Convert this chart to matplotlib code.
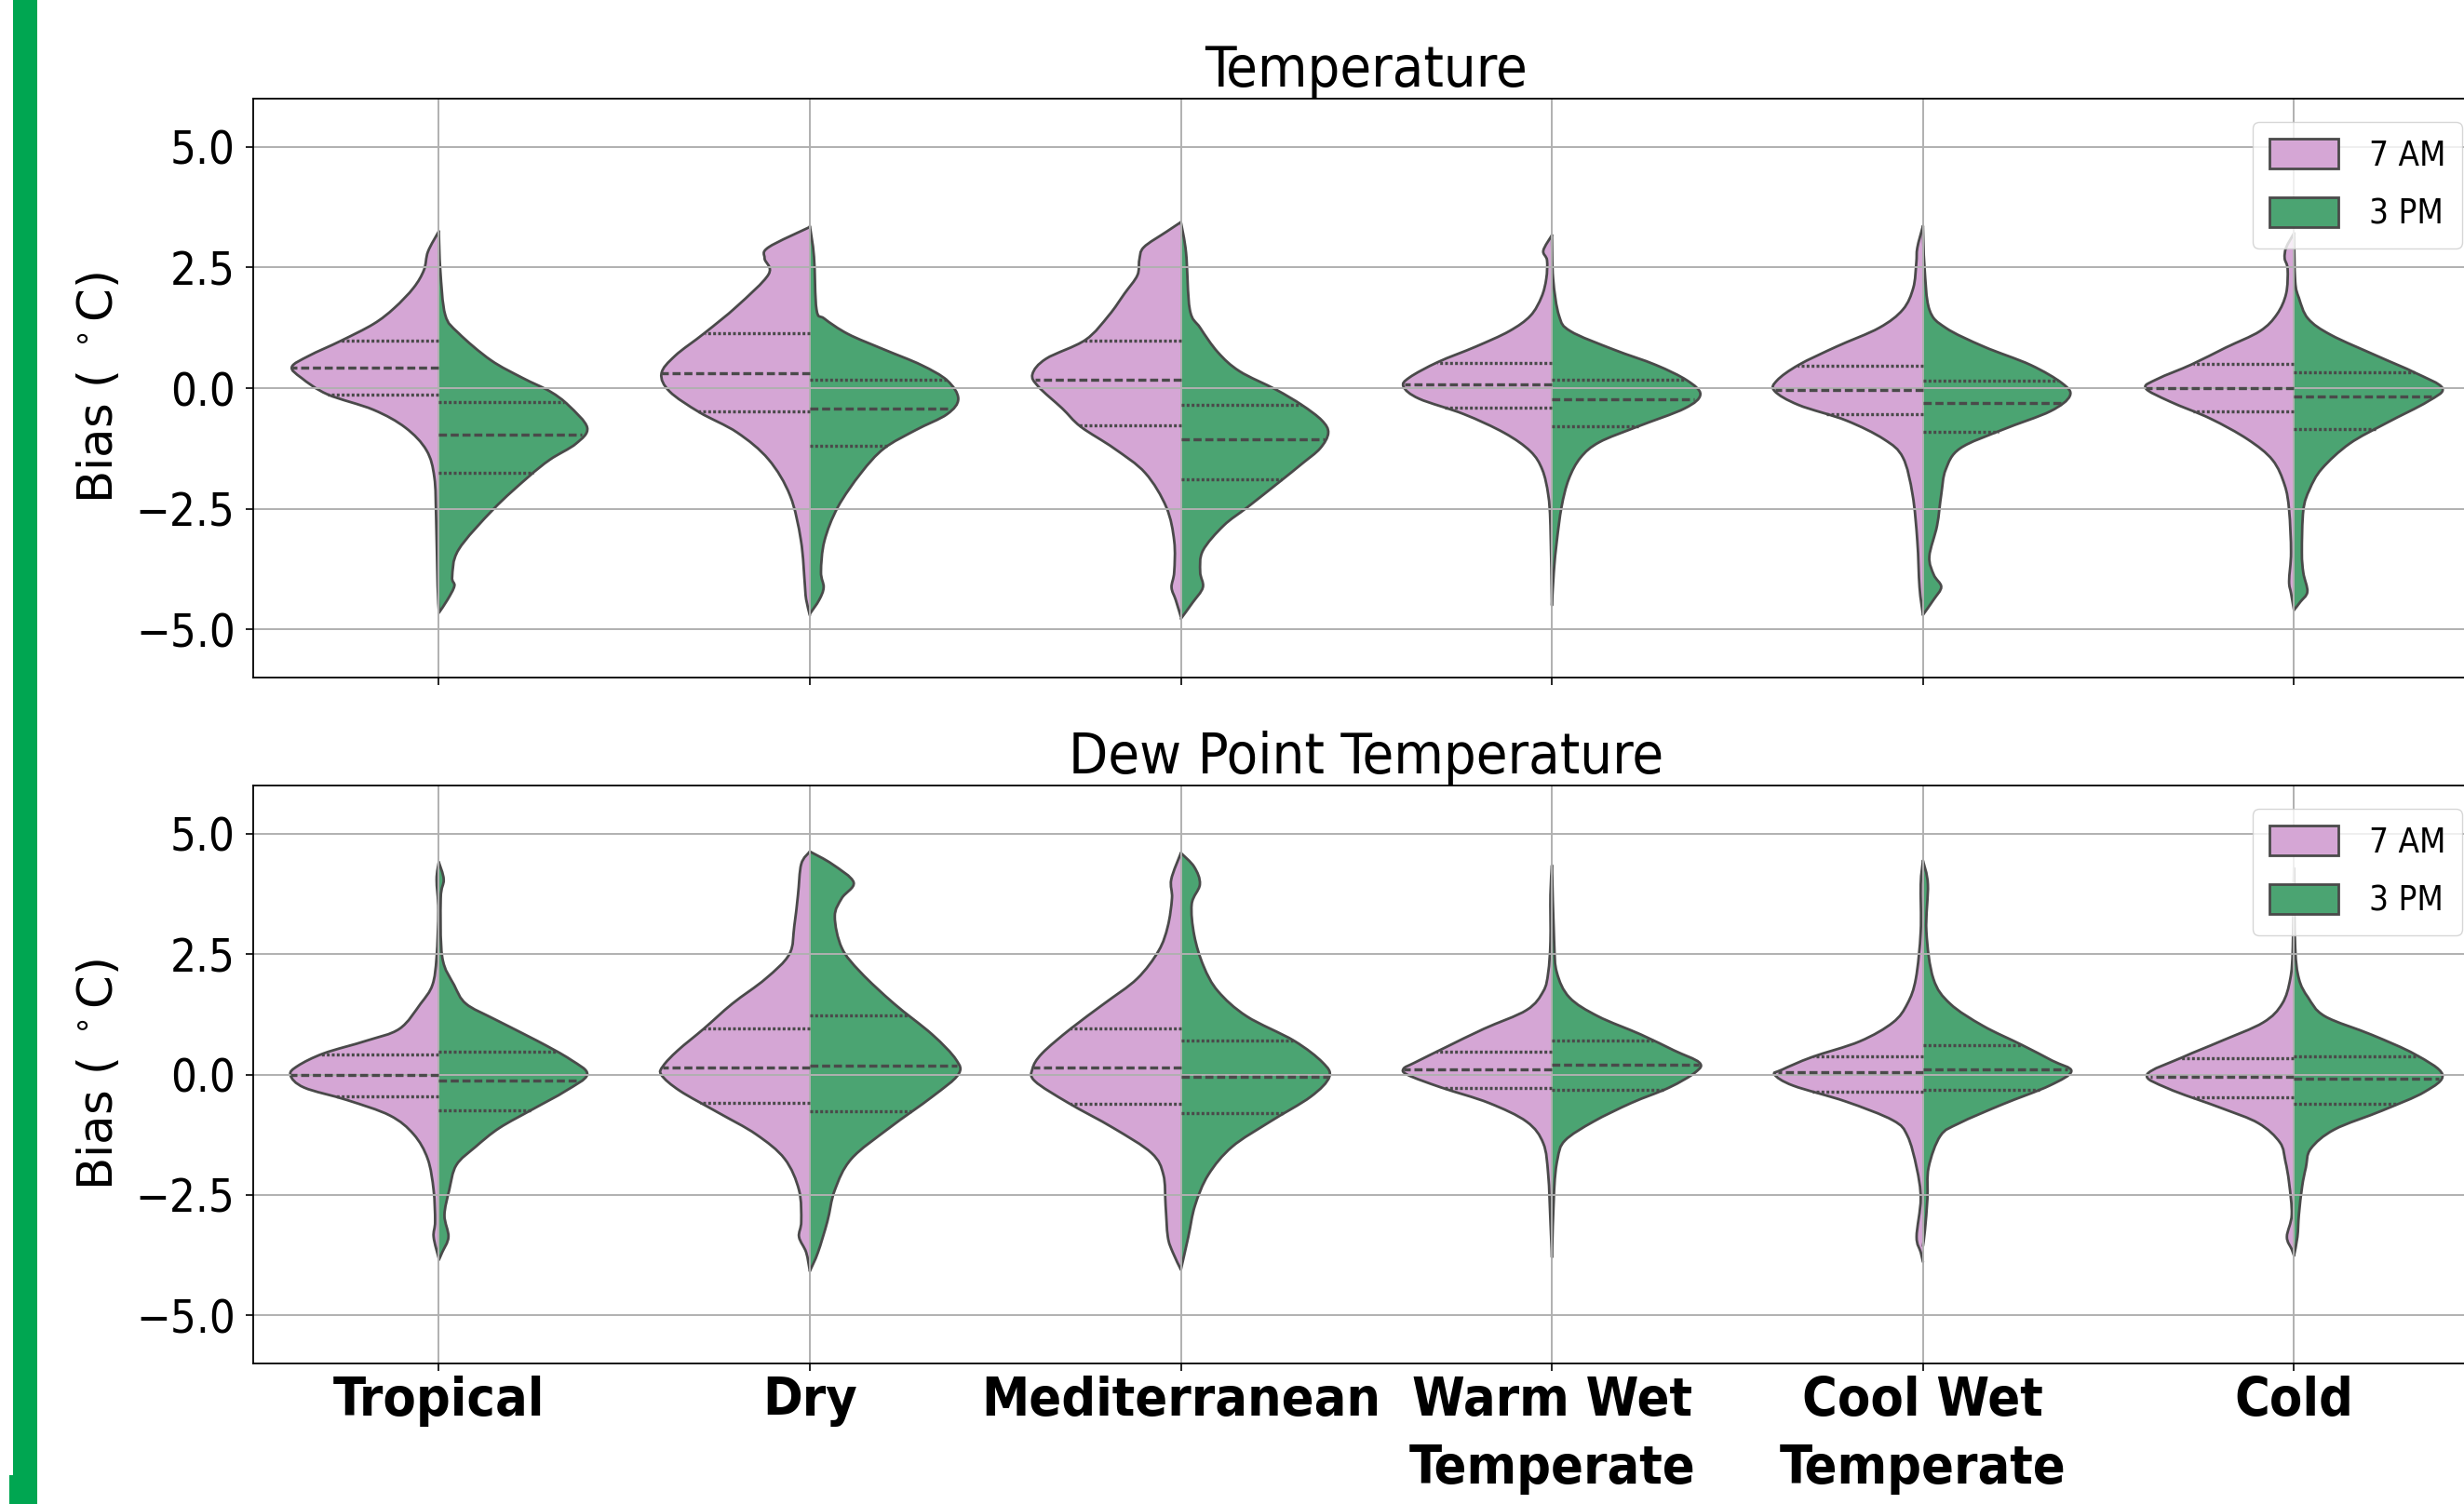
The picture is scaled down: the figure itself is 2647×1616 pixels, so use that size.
import numpy as np
import matplotlib
matplotlib.use("Agg")
import matplotlib.pyplot as plt
from matplotlib import font_manager as fm
from matplotlib.path import Path
from matplotlib.patches import PathPatch, Patch, Rectangle

# ---------------- data ----------------
categories = ["Tropical", "Dry", "Mediterranean", "Warm Wet\nTemperate",
              "Cool Wet\nTemperate", "Cold"]
times = ["7 AM", "3 PM"]
panel_titles = ["Temperature", "Dew Point Temperature"]
yticks = [-5.0, -2.5, 0.0, 2.5, 5.0]

# density profiles: (bias, relative density 0..1), bottom tip -> top tip
temp_am_profiles = [
    [(-4.6, 0), (-4.1, 0.008), (-2.7, 0.018), (-1.85, 0.03), (-1.29, 0.083), (-0.82, 0.225),
     (-0.45, 0.44), (-0.13, 0.75), (0.21, 0.925), (0.44, 0.99), (0.67, 0.875), (0.98, 0.66),
     (1.33, 0.44), (1.66, 0.30), (2.08, 0.17), (2.45, 0.10), (2.83, 0.073), (3.25, 0)],
    [(-4.71, 0), (-4.38, 0.025), (-4.1, 0.033), (-3.16, 0.06), (-2.23, 0.133), (-1.48, 0.278),
     (-0.92, 0.49), (-0.50, 0.745), (-0.07, 0.945), (0.30, 1.0), (0.67, 0.908), (1.14, 0.71),
     (1.70, 0.49), (2.36, 0.278), (2.69, 0.305), (2.92, 0.278), (3.34, 0)],
    [(-4.74, 0), (-4.39, 0.035), (-4.13, 0.063), (-3.81, 0.045), (-3.17, 0.045), (-2.47, 0.098),
     (-1.76, 0.24), (-1.25, 0.45), (-0.80, 0.675), (-0.42, 0.80), (0.03, 0.96), (0.29, 1.0),
     (0.61, 0.908), (1.0, 0.643), (1.51, 0.485), (1.96, 0.38), (2.34, 0.293), (2.66, 0.28),
     (2.92, 0.25), (3.24, 0.098), (3.44, 0)],
    [(-4.5, 0), (-2.85, 0.01), (-2.21, 0.025), (-1.69, 0.065), (-1.31, 0.145), (-0.93, 0.32),
     (-0.54, 0.593), (-0.22, 0.895), (0.03, 1.0), (0.22, 0.96), (0.54, 0.768), (0.86, 0.513),
     (1.18, 0.288), (1.50, 0.145), (1.89, 0.07), (2.27, 0.038), (2.65, 0.033), (2.85, 0.058),
     (3.17, 0)],
    [(-4.7, 0), (-4.13, 0.023), (-3.17, 0.038), (-2.21, 0.07), (-1.44, 0.135), (-1.06, 0.263),
     (-0.67, 0.518), (-0.35, 0.838), (-0.06, 1.0), (0.16, 0.983), (0.48, 0.838), (0.86, 0.583),
     (1.25, 0.295), (1.63, 0.135), (2.08, 0.065), (2.59, 0.045), (2.91, 0.038), (3.36, 0)],
    [(-4.6, 0), (-4.25, 0.02), (-4.0, 0.033), (-3.4, 0.02), (-2.53, 0.033), (-2.01, 0.063),
     (-1.49, 0.145), (-1.06, 0.313), (-0.63, 0.565), (-0.28, 0.835), (0.0, 1.0), (0.19, 0.92),
     (0.49, 0.69), (0.84, 0.46), (1.18, 0.23), (1.53, 0.115), (1.96, 0.053), (2.47, 0.043),
     (2.69, 0.063), (2.91, 0.053), (3.21, 0)],
]
temp_pm_profiles = [
    [(-4.66, 0), (-4.38, 0.06), (-4.1, 0.105), (-3.91, 0.09), (-3.35, 0.133), (-2.51, 0.368),
     (-1.85, 0.60), (-1.48, 0.75), (-1.15, 0.925), (-0.82, 1.0), (-0.36, 0.875), (-0.07, 0.75),
     (0.21, 0.565), (0.58, 0.35), (1.14, 0.133), (1.52, 0.043), (2.45, 0.01), (3.25, 0)],
    [(-4.68, 0), (-4.39, 0.063), (-4.13, 0.093), (-3.81, 0.075), (-3.17, 0.098), (-2.47, 0.188),
     (-1.76, 0.345), (-1.25, 0.50), (-0.87, 0.713), (-0.54, 0.925), (-0.22, 1.0), (0.16, 0.925),
     (0.48, 0.75), (0.80, 0.50), (1.12, 0.258), (1.44, 0.098), (1.63, 0.045), (2.72, 0.028),
     (3.36, 0)],
    [(-4.78, 0), (-4.45, 0.078), (-4.13, 0.148), (-3.81, 0.13), (-3.37, 0.148), (-2.85, 0.288),
     (-2.47, 0.448), (-1.96, 0.658), (-1.57, 0.815), (-1.25, 0.938), (-0.93, 0.993),
     (-0.67, 0.95), (-0.35, 0.815), (-0.03, 0.64), (0.35, 0.395), (0.74, 0.25), (1.25, 0.13),
     (1.63, 0.06), (2.8, 0.035), (3.44, 0)],
    [(-4.5, 0), (-3.8, 0.013), (-3.17, 0.033), (-2.46, 0.065), (-1.89, 0.113), (-1.44, 0.193),
     (-1.12, 0.32), (-0.80, 0.575), (-0.42, 0.895), (-0.13, 1.0), (0.16, 0.91), (0.48, 0.70),
     (0.80, 0.415), (1.18, 0.125), (1.50, 0.048), (2.27, 0.008), (3.17, 0)],
    [(-4.7, 0), (-4.38, 0.073), (-4.12, 0.123), (-3.87, 0.073), (-3.49, 0.043), (-2.85, 0.095),
     (-2.21, 0.123), (-1.69, 0.153), (-1.25, 0.25), (-0.86, 0.538), (-0.48, 0.858),
     (-0.16, 0.99), (0.10, 0.938), (0.48, 0.725), (0.86, 0.41), (1.25, 0.153), (1.63, 0.043),
     (2.53, 0.01), (3.36, 0)],
    [(-4.6, 0), (-4.43, 0.043), (-4.22, 0.09), (-3.83, 0.063), (-3.4, 0.053), (-2.53, 0.063),
     (-2.1, 0.105), (-1.67, 0.188), (-1.15, 0.375), (-0.72, 0.625), (-0.28, 0.90), (0.0, 1.0),
     (0.32, 0.815), (0.66, 0.565), (1.10, 0.25), (1.44, 0.095), (1.87, 0.033), (2.22, 0.008),
     (3.21, 0)],
]
dew_am_profiles = [
    [(-3.82, 0), (-3.37, 0.035), (-3.05, 0.025), (-2.4, 0.035), (-1.75, 0.075), (-1.24, 0.17),
     (-0.85, 0.33), (-0.53, 0.618), (-0.27, 0.908), (-0.01, 1.0), (0.18, 0.95), (0.44, 0.775),
     (0.70, 0.49), (0.95, 0.265), (1.47, 0.123), (1.86, 0.043), (2.44, 0.015), (3.41, 0.003),
     (4.05, 0.015), (4.41, 0)],
    [(-4.08, 0), (-3.69, 0.025), (-3.37, 0.073), (-3.05, 0.058), (-2.4, 0.073), (-1.75, 0.17),
     (-1.24, 0.363), (-0.79, 0.618), (-0.34, 0.875), (-0.01, 1.0), (0.18, 0.988), (0.50, 0.89),
     (0.95, 0.715), (1.47, 0.523), (1.99, 0.298), (2.50, 0.138), (3.08, 0.105), (3.73, 0.08),
     (4.37, 0.058), (4.63, 0)],
    [(-4.05, 0), (-3.69, 0.055), (-3.37, 0.088), (-2.72, 0.103), (-2.08, 0.118), (-1.63, 0.198),
     (-1.11, 0.455), (-0.59, 0.758), (-0.14, 0.983), (0.12, 1.0), (0.44, 0.935), (0.95, 0.743),
     (1.47, 0.518), (1.99, 0.295), (2.57, 0.15), (3.08, 0.088), (3.66, 0.06), (4.05, 0.065),
     (4.6, 0)],
    [(-3.79, 0), (-3.05, 0.01), (-2.08, 0.025), (-1.43, 0.058), (-0.98, 0.17), (-0.59, 0.425),
     (-0.27, 0.745), (-0.01, 0.97), (0.12, 1.0), (0.25, 0.923), (0.57, 0.713), (0.95, 0.458),
     (1.34, 0.17), (1.73, 0.058), (2.12, 0.025), (2.76, 0.01), (3.73, 0.01), (4.34, 0)],
    [(-3.89, 0), (-3.69, 0.015), (-3.37, 0.043), (-2.58, 0.015), (-1.93, 0.043), (-1.27, 0.105),
     (-0.95, 0.203), (-0.56, 0.52), (-0.23, 0.875), (0.0, 1.0), (0.10, 0.95), (0.36, 0.75),
     (0.69, 0.425), (1.08, 0.203), (1.47, 0.105), (1.99, 0.048), (2.97, 0.015), (3.95, 0.015),
     (4.44, 0)],
    [(-3.76, 0), (-3.63, 0.015), (-3.37, 0.048), (-2.91, 0.015), (-2.25, 0.033), (-1.80, 0.058),
     (-1.41, 0.095), (-1.01, 0.24), (-0.69, 0.495), (-0.29, 0.848), (0.0, 0.99), (0.36, 0.75),
     (0.69, 0.495), (1.08, 0.208), (1.47, 0.08), (1.99, 0.025), (2.65, 0.008), (4.28, 0)],
]
dew_pm_profiles = [
    [(-3.85, 0), (-3.69, 0.023), (-3.37, 0.065), (-2.92, 0.038), (-2.4, 0.07), (-1.88, 0.118),
     (-1.50, 0.248), (-1.11, 0.408), (-0.72, 0.633), (-0.34, 0.855), (0.0, 1.0), (0.31, 0.888),
     (0.70, 0.663), (1.15, 0.375), (1.47, 0.183), (1.86, 0.103), (2.44, 0.023), (3.66, 0.013),
     (4.05, 0.033), (4.41, 0)],
    [(-4.08, 0), (-3.69, 0.055), (-3.05, 0.118), (-2.4, 0.168), (-1.75, 0.28), (-1.11, 0.535),
     (-0.46, 0.825), (0.0, 1.0), (0.31, 0.985), (0.83, 0.825), (1.47, 0.568), (2.12, 0.343),
     (2.63, 0.215), (3.28, 0.168), (3.66, 0.215), (3.99, 0.295), (4.37, 0.15), (4.63, 0)],
    [(-4.05, 0), (-3.37, 0.05), (-2.72, 0.095), (-2.08, 0.185), (-1.50, 0.345), (-0.98, 0.60),
     (-0.46, 0.875), (-0.05, 1.0), (0.25, 0.955), (0.70, 0.763), (1.21, 0.443), (1.73, 0.25),
     (2.25, 0.153), (2.89, 0.09), (3.54, 0.073), (3.95, 0.128), (4.31, 0.09), (4.6, 0)],
    [(-3.79, 0), (-2.4, 0.015), (-1.75, 0.038), (-1.37, 0.088), (-0.98, 0.278), (-0.59, 0.535),
     (-0.27, 0.79), (0.05, 0.968), (0.25, 0.993), (0.50, 0.823), (0.83, 0.60), (1.21, 0.31),
     (1.6, 0.118), (2.12, 0.033), (2.76, 0.015), (4.34, 0)],
    [(-3.56, 0), (-3.24, 0.013), (-2.58, 0.03), (-1.93, 0.038), (-1.27, 0.118), (-1.01, 0.245),
     (-0.62, 0.535), (-0.23, 0.853), (0.07, 1.0), (0.29, 0.87), (0.62, 0.663), (1.01, 0.405),
     (1.47, 0.183), (1.99, 0.07), (2.97, 0.023), (3.95, 0.033), (4.44, 0)],
    [(-3.76, 0), (-3.37, 0.023), (-2.91, 0.033), (-2.32, 0.055), (-1.93, 0.08), (-1.54, 0.113),
     (-1.14, 0.273), (-0.75, 0.593), (-0.36, 0.88), (0.0, 1.0), (0.42, 0.815), (0.82, 0.528),
     (1.21, 0.208), (1.60, 0.095), (1.99, 0.033), (2.65, 0.008), (4.28, 0)],
]

# quartiles (lower, median, upper)
temp_am_quartiles = [(-0.13, 0.43, 0.98), (-0.49, 0.30, 1.14), (-0.77, 0.17, 0.99),
                     (-0.40, 0.08, 0.53), (-0.54, -0.04, 0.47), (-0.48, 0.0, 0.51)]
temp_pm_quartiles = [(-1.76, -0.97, -0.29), (-1.19, -0.43, 0.17), (-1.90, -1.06, -0.34),
                     (-0.79, -0.24, 0.17), (-0.90, -0.31, 0.15), (-0.85, -0.18, 0.32)]
dew_am_quartiles = [(-0.45, -0.01, 0.41), (-0.58, 0.14, 0.95), (-0.61, 0.15, 0.95),
                    (-0.28, 0.10, 0.47), (-0.35, 0.05, 0.37), (-0.48, -0.05, 0.33)]
dew_pm_quartiles = [(-0.74, -0.12, 0.47), (-0.77, 0.18, 1.23), (-0.81, -0.05, 0.71),
                    (-0.32, 0.21, 0.71), (-0.31, 0.11, 0.61), (-0.61, -0.08, 0.37)]

# ---------------- style ----------------
PINK = "#D5A6D5"
GREEN = "#4BA472"
EDGE = "#4a4a4a"
HALF_W = 0.4
LW = 2.0
QLW = 2.4

# use a condensed DejaVu face if the system has one (the reference text is narrow)
_cond_path = fm.findfont(fm.FontProperties(family="DejaVu Sans", stretch="condensed"))
HAS_COND = "ondensed" in _cond_path
SF = 1.1 if HAS_COND else 1.0
STRETCH = "condensed" if HAS_COND else "normal"
plt.rcParams["font.stretch"] = STRETCH
plt.rcParams["mathtext.fontset"] = "dejavusans"


def bezier_through(points, pos, side):
    pts = np.asarray(points, float)
    n = len(pts)
    verts = [tuple(pts[0])]
    codes = [Path.MOVETO]
    for i in range(n - 1):
        p0 = pts[i - 1] if i > 0 else pts[i]
        p1 = pts[i]
        p2 = pts[i + 1]
        p3 = pts[i + 2] if i + 2 < n else pts[i + 1]
        c1 = p1 + (p2 - p0) / 6.0
        c2 = p2 - (p3 - p1) / 6.0
        for c in (c1, c2):
            c[0] = pos + side * max(0.0, side * (c[0] - pos))
        verts += [tuple(c1), tuple(c2), tuple(p2)]
        codes += [Path.CURVE4] * 3
    return verts, codes


def draw_half(ax, pos, side, profile, quart, color):
    ys = np.array([p[0] for p in profile])
    ds = np.array([p[1] for p in profile])
    xs = pos + side * ds * HALF_W
    verts, codes = bezier_through(np.column_stack([xs, ys]), pos, side)
    fverts = verts + [(pos, ys[0]), (pos, ys[0])]
    fcodes = codes + [Path.LINETO, Path.CLOSEPOLY]
    ax.add_patch(PathPatch(Path(fverts, fcodes), facecolor=color, edgecolor="none",
                           zorder=1))
    ax.add_patch(PathPatch(Path(verts, codes), facecolor="none", edgecolor=EDGE, lw=LW,
                           zorder=1.2, joinstyle="round", capstyle="round"))
    styles = [(0, (0.9, 0.7)), (0, (2.6, 1.2)), (0, (0.9, 0.7))]
    for q, ls in zip(quart, styles):
        w = np.interp(q, ys, ds) * HALF_W
        ax.plot([pos, pos + side * w], [q, q], color=EDGE, lw=QLW, linestyle=ls, zorder=2,
                solid_capstyle="butt", dash_capstyle="butt")


fig = plt.figure(figsize=(26.47, 16.16), dpi=100)
ax_top = fig.add_axes([0.1028, 0.5495, 0.9035, 0.3849])
ax_bot = fig.add_axes([0.1028, 0.0934, 0.9035, 0.3843])

panels = [
    (ax_top, temp_am_profiles, temp_pm_profiles, temp_am_quartiles, temp_pm_quartiles),
    (ax_bot, dew_am_profiles, dew_pm_profiles, dew_am_quartiles, dew_pm_quartiles),
]

for k, (ax, am_p, pm_p, am_q, pm_q) in enumerate(panels):
    for i in range(len(categories)):
        draw_half(ax, i, -1, am_p[i], am_q[i], PINK)
        draw_half(ax, i, +1, pm_p[i], pm_q[i], GREEN)
    ax.set_xlim(-0.5, len(categories) - 0.5)
    ax.set_ylim(-6, 6)
    ax.set_yticks(yticks)
    ax.set_xticks(range(len(categories)))
    ax.grid(True, color="#b0b0b0", lw=1.4)
    ax.tick_params(axis="both", length=6, width=1.2)
    ax.tick_params(axis="y", labelsize=32 * SF, pad=8)
    for sp in ax.spines.values():
        sp.set_linewidth(1.3)
    ax.set_title(panel_titles[k], fontsize=40 * SF, pad=8)
    ax.set_ylabel("Bias ( $^\\circ$C)", fontsize=37, fontstretch="normal", labelpad=10)
    handles = [Patch(facecolor=PINK, edgecolor=EDGE, lw=LW, label=times[0]),
               Patch(facecolor=GREEN, edgecolor=EDGE, lw=LW, label=times[1])]
    ax.legend(handles=handles, loc="upper right", bbox_to_anchor=(1.0, 0.99),
              fontsize=24 * SF, handleheight=0.95, handlelength=2.0, labelspacing=0.7,
              borderpad=0.5, handletextpad=0.9, borderaxespad=0.5)

ax_top.set_xticklabels([])
ax_bot.set_xticklabels(categories, fontsize=37.5 * SF, fontweight="bold", linespacing=1.42)

# green marker bar at the left edge
fig.patches.append(Rectangle((14 / 2647, 0), 26 / 2647, 1, transform=fig.transFigure,
                             facecolor="#00A651", edgecolor="none", zorder=0))
fig.patches.append(Rectangle((10 / 2647, 0), 30 / 2647, 31 / 1616, transform=fig.transFigure,
                             facecolor="#00A651", edgecolor="none", zorder=0))

fig.savefig("out.png", dpi=100)
